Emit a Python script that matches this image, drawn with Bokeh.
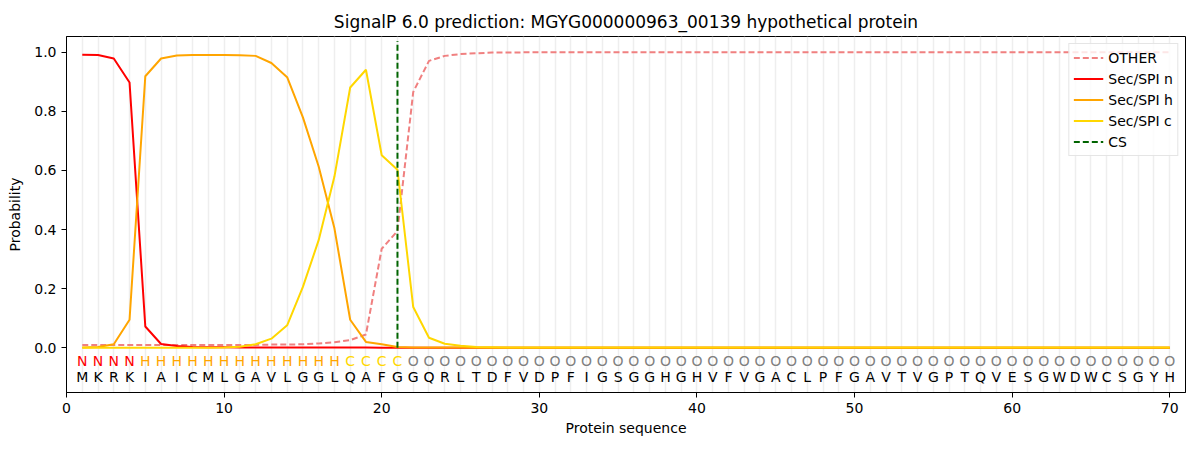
from bokeh.plotting import figure
from bokeh.models import Range1d, FixedTicker, ColumnDataSource, NumeralTickFormatter
from bokeh.core.properties import value
from bokeh.embed import file_html
from bokeh.resources import INLINE

title = "SignalP 6.0 prediction: MGYG000000963_00139 hypothetical protein"
sequence = list("MKRKIAICMLGAVLGGLQAFGGQRLTDFVDPFIGSGGHGHVFVGACLPFGAVTVGPTQVESGWDWCSGYH")
region_labels = list("NNNNHHHHHHHHHHHHHCCCCOOOOOOOOOOOOOOOOOOOOOOOOOOOOOOOOOOOOOOOOOOOOOOOOO")
positions = list(range(1, len(sequence) + 1))
cs_position = 21

other = [0.010, 0.010, 0.010, 0.010, 0.010, 0.010, 0.010, 0.010, 0.010, 0.010,
         0.010, 0.010, 0.011, 0.011, 0.012, 0.015, 0.019, 0.026, 0.045, 0.335,
         0.395, 0.865, 0.970, 0.987, 0.993, 0.996, 0.998, 0.998, 0.999, 0.999,
         0.999, 0.999, 0.999, 0.999, 0.999, 0.999, 0.999, 0.999, 0.999, 0.999,
         0.999, 0.999, 0.999, 0.999, 0.999, 0.999, 0.999, 0.999, 0.999, 0.999,
         0.999, 0.999, 0.999, 0.999, 0.999, 0.999, 0.999, 0.999, 0.999, 0.999,
         0.999, 0.999, 0.999, 0.999, 0.999, 0.999, 0.999, 0.999, 0.999, 0.999]
sp_n = [0.991, 0.990, 0.978, 0.897, 0.072, 0.013, 0.006, 0.003, 0.002, 0.002,
        0.001, 0.001, 0.001, 0.001, 0.001, 0.001, 0.001, 0.001, 0.001, 0.000,
        0.000, 0.000, 0.000, 0.000, 0.000, 0.000, 0.000, 0.000, 0.000, 0.000,
        0.000, 0.000, 0.000, 0.000, 0.000, 0.000, 0.000, 0.000, 0.000, 0.000,
        0.000, 0.000, 0.000, 0.000, 0.000, 0.000, 0.000, 0.000, 0.000, 0.000,
        0.000, 0.000, 0.000, 0.000, 0.000, 0.000, 0.000, 0.000, 0.000, 0.000,
        0.000, 0.000, 0.000, 0.000, 0.000, 0.000, 0.000, 0.000, 0.000, 0.000]
sp_h = [0.001, 0.003, 0.012, 0.095, 0.918, 0.978, 0.988, 0.990, 0.990, 0.990,
        0.989, 0.987, 0.963, 0.915, 0.779, 0.613, 0.404, 0.095, 0.020, 0.012,
        0.003, 0.001, 0.001, 0.001, 0.001, 0.000, 0.000, 0.000, 0.000, 0.000,
        0.000, 0.000, 0.000, 0.000, 0.000, 0.000, 0.000, 0.000, 0.000, 0.000,
        0.000, 0.000, 0.000, 0.000, 0.000, 0.000, 0.000, 0.000, 0.000, 0.000,
        0.000, 0.000, 0.000, 0.000, 0.000, 0.000, 0.000, 0.000, 0.000, 0.000,
        0.000, 0.000, 0.000, 0.000, 0.000, 0.000, 0.000, 0.000, 0.000, 0.000]
sp_c = [0.000, 0.000, 0.000, 0.000, 0.000, 0.000, 0.000, 0.000, 0.000, 0.001,
        0.004, 0.012, 0.031, 0.076, 0.206, 0.364, 0.579, 0.880, 0.940, 0.651,
        0.602, 0.138, 0.034, 0.014, 0.007, 0.003, 0.002, 0.001, 0.001, 0.001,
        0.001, 0.001, 0.001, 0.001, 0.001, 0.001, 0.001, 0.001, 0.001, 0.001,
        0.001, 0.001, 0.001, 0.001, 0.001, 0.001, 0.001, 0.001, 0.001, 0.001,
        0.001, 0.001, 0.001, 0.001, 0.001, 0.001, 0.001, 0.001, 0.001, 0.001,
        0.001, 0.001, 0.001, 0.001, 0.001, 0.001, 0.001, 0.001, 0.001, 0.001]
x_ticks = [0, 10, 20, 30, 40, 50, 60, 70]
y_ticks = [0.0, 0.2, 0.4, 0.6, 0.8, 1.0]

label_colors = {"N": "#ff0000", "H": "#ffa500", "C": "#ffd700", "O": "#808080"}
FONT = "DejaVu Sans"

p = figure(width=1192, height=442, output_backend="svg", toolbar_location=None,
           x_range=Range1d(0, 71), y_range=Range1d(-0.151, 1.0525),
           min_border_left=66, min_border_right=7, min_border_top=36, min_border_bottom=50)

p.title.text = title
p.title.align = "center"
p.title.text_font = FONT
p.title.text_font_size = "17px"
p.title.text_font_style = "normal"
p.title.text_color = "black"

p.outline_line_color = "black"
p.outline_line_width = 1
p.outline_line_alpha = 1

p.ygrid.visible = False
p.xgrid.ticker = FixedTicker(ticks=positions)
p.xgrid.grid_line_color = "#eeeeee"
p.xgrid.grid_line_width = 1.5

p.xaxis.ticker = FixedTicker(ticks=x_ticks)
p.yaxis.ticker = FixedTicker(ticks=y_ticks)
p.yaxis.formatter = NumeralTickFormatter(format="0.0")
p.xaxis.axis_label = "Protein sequence"
p.yaxis.axis_label = "Probability"
for ax in (p.xaxis, p.yaxis):
    ax.axis_label_text_font = FONT
    ax.axis_label_text_font_size = "14px"
    ax.axis_label_text_font_style = "normal"
    ax.axis_label_text_color = "black"
    ax.major_label_text_font = FONT
    ax.major_label_text_font_size = "14px"
    ax.major_label_text_color = "black"
    ax.minor_tick_line_color = None
    ax.major_tick_in = 0
    ax.major_tick_out = 5
    ax.axis_line_color = "black"
    ax.major_tick_line_color = "black"
p.xaxis.axis_label_standoff = 4
p.yaxis.axis_label_standoff = 8

p.line(positions, other, line_color="#f08080", line_width=2, line_dash="6 3", legend_label="OTHER")
p.line(positions, sp_n, line_color="#ff0000", line_width=2, legend_label="Sec/SPI n")
p.line(positions, sp_h, line_color="#ffa500", line_width=2, legend_label="Sec/SPI h")
p.line(positions, sp_c, line_color="#ffd700", line_width=2, legend_label="Sec/SPI c")
p.line([cs_position, cs_position], [0, 1.037], line_color="#006400", line_width=2,
       line_dash="6 3", legend_label="CS")

src = ColumnDataSource(dict(
    x=positions,
    lab=region_labels,
    res=sequence,
    ylab=[-0.046] * len(positions),
    yres=[-0.097] * len(positions),
    col=[label_colors[c] for c in region_labels],
))
p.text(x="x", y="ylab", text="lab", text_color="col", source=src,
       text_font=value(FONT), text_font_size=value("14px"),
       text_align="center", text_baseline="middle")
p.text(x="x", y="yres", text="res", text_color="black", source=src,
       text_font=value(FONT), text_font_size=value("14px"),
       text_align="center", text_baseline="middle")

lg = p.legend[0]
lg.location = "top_right"
lg.label_text_font = FONT
lg.label_text_font_size = "14px"
lg.label_text_color = "black"
lg.border_line_color = "#cccccc"
lg.background_fill_alpha = 0.8
lg.glyph_width = 30
lg.glyph_height = 19
lg.label_height = 19
lg.spacing = 2
lg.padding = 4
lg.margin = 7

open("out.html", "w").write(file_html(p, INLINE))
